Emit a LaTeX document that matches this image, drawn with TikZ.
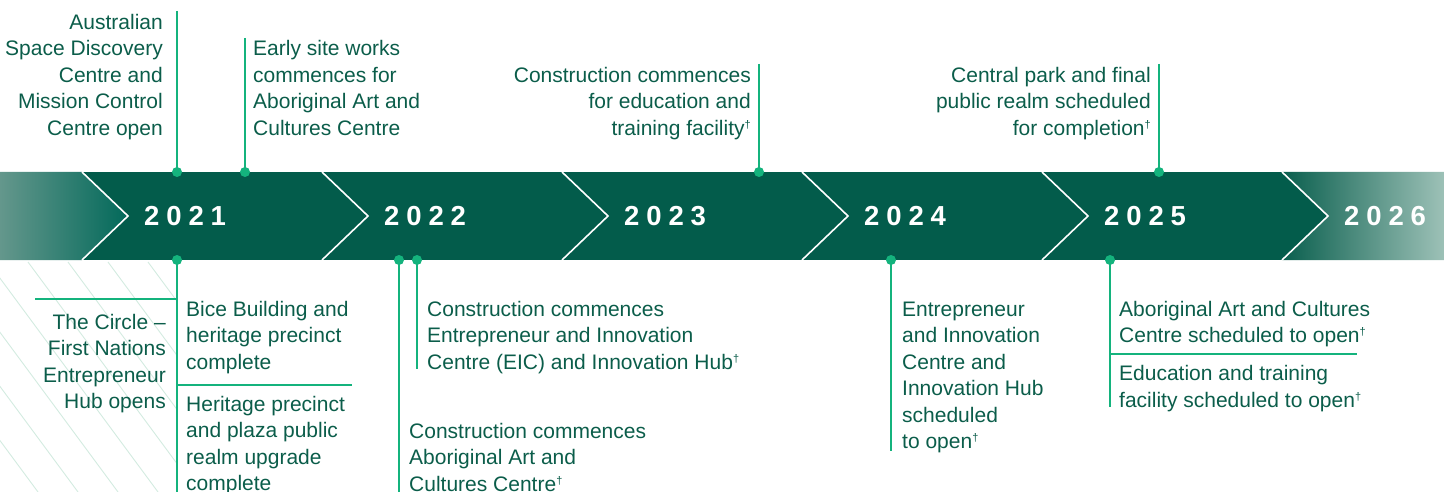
\documentclass[tikz,border=0pt]{standalone}
\usepackage{fontspec}
\newfontfamily\bodyfont{Liberation Sans}
\newfontfamily\yearfont[LetterSpace=25]{Liberation Sans}
\definecolor{txtgreen}{HTML}{0B5D4A}
\definecolor{conngreen}{HTML}{14B37D}
\definecolor{bandgreen}{HTML}{035C4B}
\definecolor{hatchgreen}{HTML}{D3EBE0}
\definecolor{leftfade}{HTML}{64978C}
\definecolor{lefttail}{HTML}{02695A}
\definecolor{rightfade}{HTML}{9DC1B7}
\definecolor{righthead}{HTML}{0A5F4E}
\tikzset{
  txt/.style={font=\bodyfont\fontsize{21}{26.5}\selectfont, text=txtgreen, inner sep=0pt},
  lt/.style={txt, align=left, anchor=north west},
  rt/.style={txt, align=right, anchor=north east},
  year/.style={font=\yearfont\bfseries\fontsize{27.5}{30}\selectfont, text=white, inner sep=0pt, anchor=west},
  conn/.style={draw=conngreen, line width=2pt},
  dot/.style={circle, fill=conngreen, inner sep=0pt, minimum size=10pt},
  chev/.style={draw=white, line width=1.6pt},
  hatch/.style={draw=hatchgreen, line width=0.9pt}
}
\newcommand{\dg}{\raisebox{7pt}{\fontsize{11}{11}\selectfont †}}
\begin{document}
\begin{tikzpicture}[x=1pt,y=-1pt]
\useasboundingbox (0,0) rectangle (1444,492);
% band
\fill[bandgreen] (0,172) rectangle (1444,260);
\shade[left color=leftfade, right color=lefttail] (0,172) -- (82,172) -- (128,216) -- (82,260) -- (0,260) -- cycle;
\shade[left color=righthead, right color=rightfade] (1282,172) -- (1444,172) -- (1444,260) -- (1282,260) -- (1328,216) -- cycle;
\foreach \k in {0,...,5}{
  \draw[chev] (82+240*\k,172) -- (128+240*\k,216) -- (82+240*\k,260);
}
% hatch
\begin{scope}
\clip (0,261) rectangle (176,492);
\foreach \k in {-5,...,4}{
  \draw[hatch] (28+40*\k,262) -- (198+40*\k,492);
}
\end{scope}
% years
\node[year] (y2021) at (144,216) {2021};
\node[year] (y2022) at (384,216) {2022};
\node[year] (y2023) at (624,216) {2023};
\node[year] (y2024) at (864,216) {2024};
\node[year] (y2025) at (1104,216) {2025};
\node[year] (y2026) at (1344,216) {2026};
% top connectors
\node[dot] (d1) at (177,172) {};
\node[dot] (d2) at (245,172) {};
\node[dot] (d3) at (759,172) {};
\node[dot] (d4) at (1159,172) {};
\coordinate (e1) at (177,11);
\coordinate (e2) at (245,38);
\coordinate (e3) at (759,64);
\coordinate (e4) at (1159,64);
\draw[conn] (e1) -- (d1.center);
\draw[conn] (e2) -- (d2.center);
\draw[conn] (e3) -- (d3.center);
\draw[conn] (e4) -- (d4.center);
% bottom connectors
\node[dot] (d5) at (177,260) {};
\node[dot] (d6) at (399,260) {};
\node[dot] (d7) at (417,260) {};
\node[dot] (d8) at (891,260) {};
\node[dot] (d9) at (1110,260) {};
\coordinate (e5) at (177,492);
\coordinate (e6) at (399,492);
\coordinate (e7) at (417,369);
\coordinate (e8) at (891,451);
\coordinate (e9) at (1110,407);
\draw[conn] (d5.center) -- (e5);
\draw[conn] (d6.center) -- (e6);
\draw[conn] (d7.center) -- (e7);
\draw[conn] (d8.center) -- (e8);
\draw[conn] (d9.center) -- (e9);
\coordinate (h1a) at (35,299);
\coordinate (h1b) at (177,299);
\coordinate (h2a) at (177,385);
\coordinate (h2b) at (352,385);
\coordinate (h3a) at (1110,354);
\coordinate (h3b) at (1357,354);
\draw[conn] (h1a) -- (h1b);
\draw[conn] (h2a) -- (h2b);
\draw[conn] (h3a) -- (h3b);
% top texts
\node[rt] (t1) at (163,10.45) {\strut Australian\\Space Discovery\\Centre and\\Mission Control\\Centre open};
\node[lt] (t2) at (253,36.95) {\strut Early site works\\commences for\\Aboriginal Art and\\Cultures Centre};
\node[rt] (t3) at (751,63.45) {\strut Construction commences\\for education and\\training facility\dg};
\node[rt] (t4) at (1151,63.45) {\strut Central park and final\\public realm scheduled\\for completion\dg};
% bottom texts
\node[rt] (b1) at (166,310.45) {\strut The Circle –\\First Nations\\Entrepreneur\\Hub opens};
\node[lt] (b2) at (186,297.45) {\strut Bice Building and\\heritage precinct\\complete};
\node[lt] (b3) at (186,392.45) {\strut Heritage precinct\\and plaza public\\realm upgrade\\complete};
\node[lt] (b4) at (409,419.45) {\strut Construction commences\\Aboriginal Art and\\Cultures Centre\dg};
\node[lt] (b5) at (427,297.45) {\strut Construction commences\\Entrepreneur and Innovation\\Centre (EIC) and Innovation Hub\dg};
\node[lt] (b6) at (902,297.45) {\strut Entrepreneur\\and Innovation\\Centre and\\Innovation Hub\\scheduled\\to open\dg};
\node[lt] (b7) at (1119,297.45) {\strut Aboriginal Art and Cultures\\Centre scheduled to open\dg};
\node[lt] (b8) at (1119,361.95) {\strut Education and training\\facility scheduled to open\dg};
\end{tikzpicture}
\end{document}
